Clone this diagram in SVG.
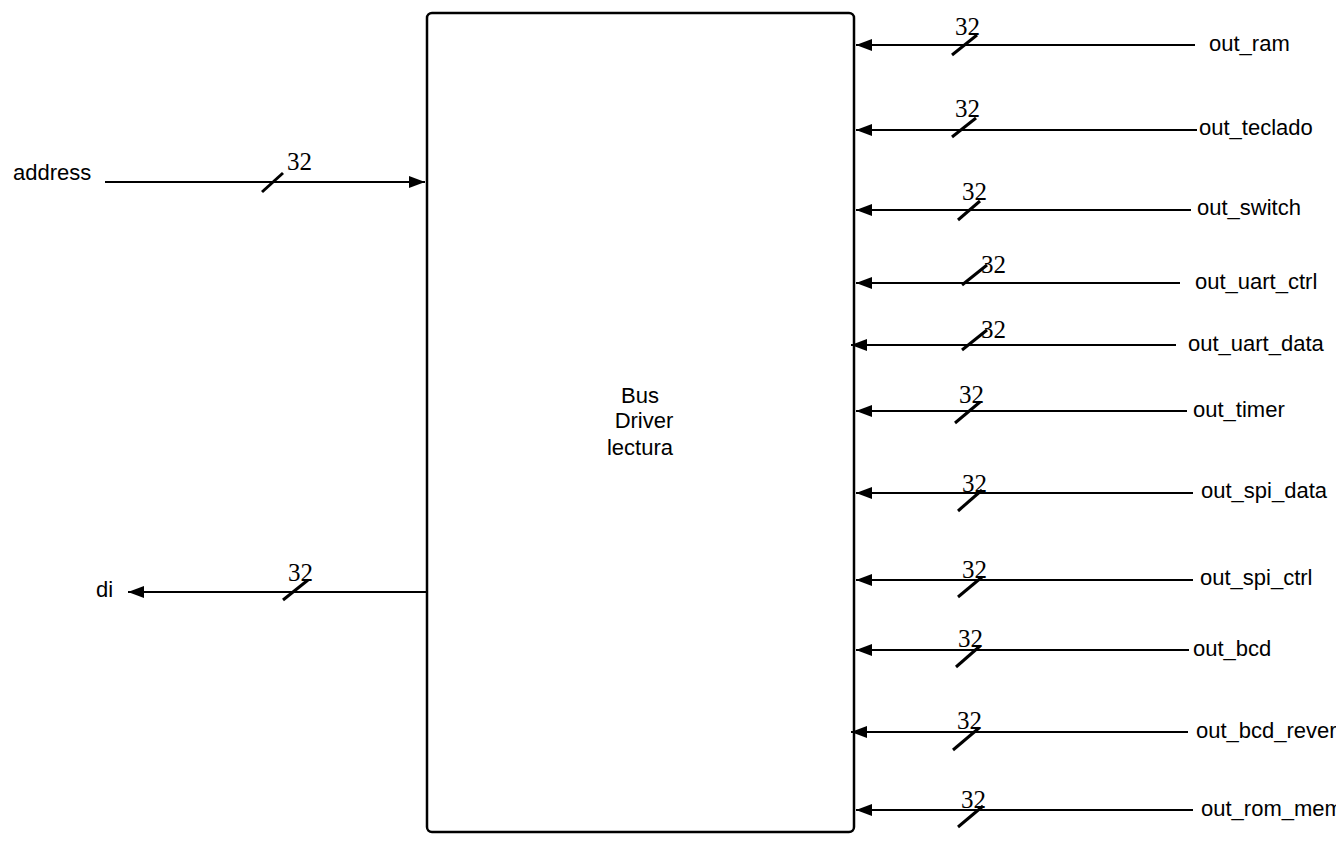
<svg xmlns="http://www.w3.org/2000/svg" width="1336" height="853" viewBox="0 0 1336 853">
<style>
.lbl{font-family:"Liberation Sans",Arial,sans-serif;font-size:22px;fill:#000}
.num{font-family:"Liberation Serif","Times New Roman",serif;font-size:25px;fill:#000}
.wire{stroke:#000;stroke-width:2;fill:none}
.slash{stroke:#000;stroke-width:3;stroke-linecap:butt}
</style>
<defs>
<marker id="arr" viewBox="0 0 16 12" refX="16" refY="6" markerWidth="16" markerHeight="12" markerUnits="userSpaceOnUse" orient="auto">
<path d="M0,0 L16,6 L0,12 Z" fill="#000"/>
</marker>
</defs>
<rect width="1336" height="853" fill="#fff"/>
<g id="bus_driver">
<rect x="427" y="13" width="427" height="819" rx="5" ry="5" fill="#fff" stroke="#000" stroke-width="2.5"/>
<text class="lbl" x="640" y="403" text-anchor="middle">Bus</text>
<text class="lbl" x="644" y="428" text-anchor="middle">Driver</text>
<text class="lbl" x="640" y="455" text-anchor="middle">lectura</text>
</g>
<g id="connectors">
<line class="wire" x1="105" y1="182" x2="425" y2="182" marker-end="url(#arr)"/>
<line class="wire" x1="427" y1="592" x2="128" y2="592" marker-end="url(#arr)"/>
<line class="wire" x1="1195" y1="45" x2="856" y2="45" marker-end="url(#arr)"/>
<line class="wire" x1="1197" y1="130" x2="856" y2="130" marker-end="url(#arr)"/>
<line class="wire" x1="1191" y1="210" x2="856" y2="210" marker-end="url(#arr)"/>
<line class="wire" x1="1180" y1="283" x2="856" y2="283" marker-end="url(#arr)"/>
<line class="wire" x1="1176" y1="345" x2="851" y2="345" marker-end="url(#arr)"/>
<line class="wire" x1="1187" y1="411" x2="856" y2="411" marker-end="url(#arr)"/>
<line class="wire" x1="1193" y1="493" x2="856" y2="493" marker-end="url(#arr)"/>
<line class="wire" x1="1193" y1="580" x2="856" y2="580" marker-end="url(#arr)"/>
<line class="wire" x1="1189" y1="650" x2="856" y2="650" marker-end="url(#arr)"/>
<line class="wire" x1="1188" y1="732" x2="851" y2="732" marker-end="url(#arr)"/>
<line class="wire" x1="1193" y1="810" x2="856" y2="810" marker-end="url(#arr)"/>
<line class="slash" x1="262" y1="192" x2="283" y2="173"/>
<line class="slash" x1="283" y1="600" x2="308" y2="580"/>
<line class="slash" x1="952" y1="55" x2="977" y2="35"/>
<line class="slash" x1="952" y1="137" x2="976" y2="118"/>
<line class="slash" x1="958" y1="220" x2="980" y2="201"/>
<line class="slash" x1="962" y1="285" x2="987" y2="265"/>
<line class="slash" x1="962" y1="350" x2="987" y2="330"/>
<line class="slash" x1="955" y1="423" x2="980" y2="402"/>
<line class="slash" x1="958" y1="511" x2="982" y2="490"/>
<line class="slash" x1="958" y1="597" x2="982" y2="577"/>
<line class="slash" x1="956" y1="667" x2="980" y2="646"/>
<line class="slash" x1="953" y1="750" x2="979" y2="728"/>
<line class="slash" x1="958" y1="827" x2="983" y2="806"/>
</g>
<g id="widths">
<text class="num" x="287" y="170">32</text>
<text class="num" x="288" y="581">32</text>
<text class="num" x="955" y="35">32</text>
<text class="num" x="955" y="117">32</text>
<text class="num" x="962" y="200">32</text>
<text class="num" x="981" y="273">32</text>
<text class="num" x="981" y="338">32</text>
<text class="num" x="959" y="403">32</text>
<text class="num" x="962" y="492">32</text>
<text class="num" x="962" y="578">32</text>
<text class="num" x="958" y="647">32</text>
<text class="num" x="957" y="729">32</text>
<text class="num" x="961" y="808">32</text>
</g>
<g id="port_address"><text class="lbl" x="13" y="180">address</text></g>
<g id="port_di"><text class="lbl" x="96" y="597">di</text></g>
<g id="port_out_ram"><text class="lbl" x="1209" y="51">out_ram</text></g>
<g id="port_out_teclado"><text class="lbl" x="1199" y="135">out_teclado</text></g>
<g id="port_out_switch"><text class="lbl" x="1197" y="215">out_switch</text></g>
<g id="port_out_uart_ctrl"><text class="lbl" x="1195" y="289">out_uart_ctrl</text></g>
<g id="port_out_uart_data"><text class="lbl" x="1188" y="351">out_uart_data</text></g>
<g id="port_out_timer"><text class="lbl" x="1193" y="417">out_timer</text></g>
<g id="port_out_spi_data"><text class="lbl" x="1201" y="498">out_spi_data</text></g>
<g id="port_out_spi_ctrl"><text class="lbl" x="1200" y="585">out_spi_ctrl</text></g>
<g id="port_out_bcd"><text class="lbl" x="1193" y="656">out_bcd</text></g>
<g id="port_out_bcd_rever"><text class="lbl" x="1196" y="738">out_bcd_rever</text></g>
<g id="port_out_rom_mem"><text class="lbl" x="1201" y="816">out_rom_mem</text></g>
</svg>
